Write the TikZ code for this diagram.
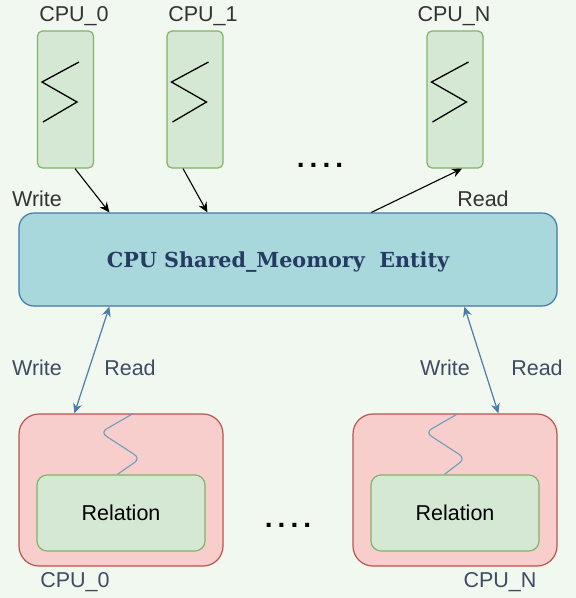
\documentclass[tikz,border=0pt]{standalone}
\usepackage{fontspec}
\setmainfont{Liberation Sans}
\newfontfamily\titlefont{DejaVu Serif}
\usetikzlibrary{arrows.meta}

\definecolor{bgmint}{HTML}{F1F8EF}
\definecolor{cpufill}{HTML}{D5E8D4}
\definecolor{cpuline}{HTML}{82B366}
\definecolor{shmfill}{HTML}{A8D8DB}
\definecolor{shmline}{HTML}{4477AA}
\definecolor{relfill}{HTML}{F8CECC}
\definecolor{relline}{HTML}{B85450}
\definecolor{rwblue}{HTML}{4A7EA8}
\definecolor{waveblue}{HTML}{6C9EC0}
\definecolor{titlenavy}{HTML}{243B62}
\definecolor{lblgray}{HTML}{333333}
\definecolor{lblnavy}{HTML}{3E4C63}

\begin{document}
\begin{tikzpicture}[x=1pt, y=-1pt,
	cpubox/.style={draw=cpuline, fill=cpufill, line width=1.2pt, rounded corners=5pt,
		minimum width=56pt, minimum height=137pt, inner sep=0pt},
	shmbox/.style={draw=shmline, fill=shmfill, line width=1.2pt, rounded corners=15pt,
		minimum width=538pt, minimum height=93pt, inner sep=0pt},
	relbox/.style={draw=relline, fill=relfill, line width=1.2pt, rounded corners=20pt,
		minimum width=204pt, minimum height=152pt, inner sep=0pt},
	innerbox/.style={draw=cpuline, fill=cpufill, line width=1.2pt, rounded corners=10pt,
		minimum width=168pt, minimum height=76pt, inner sep=0pt,
		font=\fontsize{21.5}{25}\selectfont, text=black},
	lbl/.style={inner sep=0pt, text=lblgray, font=\fontsize{21.5}{25}\selectfont},
	lblb/.style={lbl, text=lblnavy},
	dotrow/.style={inner sep=0pt, text=black, font=\fontsize{28}{30}\selectfont\bfseries},
	zig/.style={line width=1.3pt, black},
	wave/.style={line width=1.1pt, waveblue, rounded corners=7pt},
	wr/.style={line width=1.1pt, black, -{Stealth[length=10pt, width=9pt]}},
	rw/.style={line width=1.2pt, rwblue, {Stealth[length=10pt, width=9pt]}-{Stealth[length=10pt, width=9pt]}}
	]
	\useasboundingbox[fill=bgmint] (0,0) rectangle (576,598);

	% top cpus
	\node[cpubox] (cpua) at (65.5,99.5) {};
	\node[cpubox] (cpub) at (195,99.5) {};
	\node[cpubox] (cpun) at (455,99.5) {};
	\node[lbl] (cpualbl) at (74,16) {CPU\_0};
	\node[lbl] (cpublbl) at (203,16) {CPU\_1};
	\node[lbl] (cpunlbl) at (454,16) {CPU\_N};
	\foreach \b in {cpua,cpub,cpun}
	  \draw[zig, shift={(\b.center)}] (13.5,-37.5) -- (-23.5,-17.5) -- (11.5,2.5) -- (-22.5,22.5);
	\node[dotrow] (dotstop) at (320,165) {.\hspace{5pt}.\hspace{5pt}.\hspace{5pt}.};

	% shared memory
	\node[shmbox] (shm) at (288,259.5) {};
	\node[inner sep=0pt, text=titlenavy, font=\titlefont\bfseries\fontsize{20.7}{24}\selectfont] (shmtitle) at (278,262) {CPU Shared\_Meomory~~Entity};

	\draw[wr] ([xshift=9.5pt]cpua.south) -- ([xshift=91pt]shm.north west);
	\draw[wr] ([xshift=-12pt]cpub.south) -- ([xshift=189pt]shm.north west);
	\draw[wr] ([xshift=353pt]shm.north west) -- ([xshift=7pt]cpun.south);
	\node[lbl] (wrtop) at (37,199) {Write};
	\node[lbl] (rdtop) at (483,199) {Read};

	% relations
	\node[relbox] (rela) at (121,490) {};
	\node[relbox] (relb) at (455,490) {};
	\draw[wave, shift={(rela.north west)}] (115,0) -- (82,19) -- (122,45) -- (99,61);
	\draw[wave, shift={(relb.north west)}] (106,0) -- (73,19) -- (113,45) -- (92,61);
	\node[innerbox] (inna) at (121,513) {Relation};
	\node[innerbox] (innb) at (455,513) {Relation};
	\node[lblb] (cpuabot) at (75,582) {CPU\_0};
	\node[lblb] (cpunbot) at (500,582) {CPU\_N};
	\node[dotrow] (dotsbot) at (288,525) {.\hspace{5pt}.\hspace{5pt}.\hspace{5pt}.};

	\draw[rw] ([xshift=91pt]shm.south west) -- ([xshift=56pt]rela.north west);
	\draw[rw] ([xshift=446pt]shm.south west) -- ([xshift=146pt]relb.north west);
	\node[lblb] (wra) at (37,368) {Write};
	\node[lblb] (rda) at (130,368) {Read};
	\node[lblb] (wrb) at (445,368) {Write};
	\node[lblb] (rdb) at (537,368) {Read};
\end{tikzpicture}
\end{document}
